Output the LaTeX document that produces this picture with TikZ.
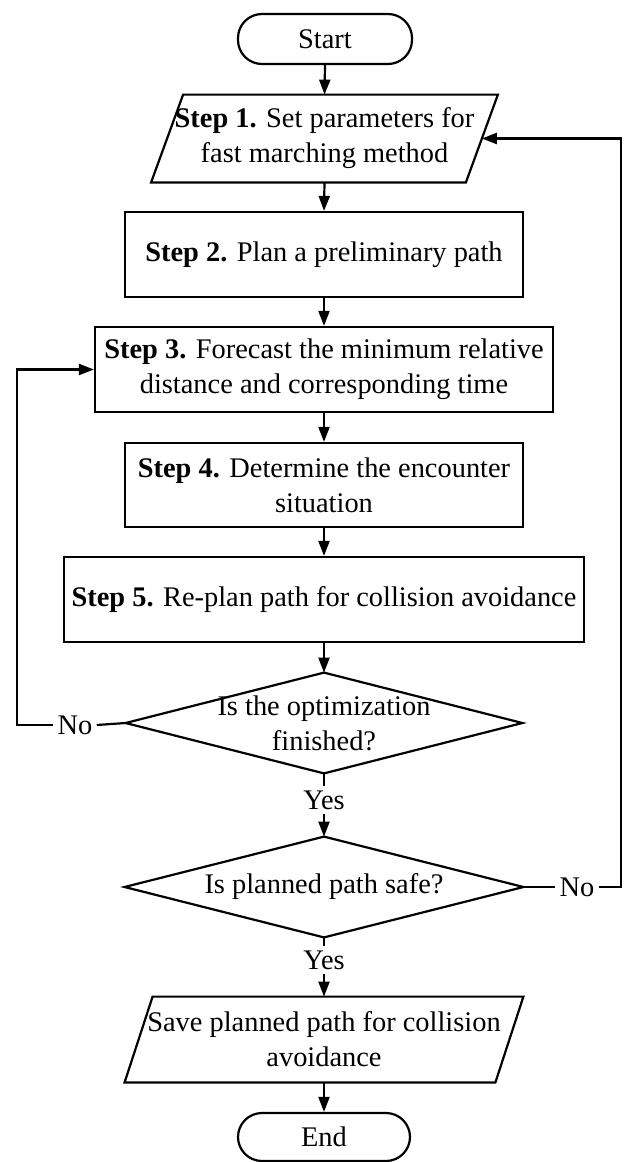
\documentclass[tikz,border=0pt]{standalone}
\usepackage{fontspec}
\setmainfont{Liberation Serif}
\usetikzlibrary{arrows.meta,calc}
\begin{document}
\begin{tikzpicture}[x=0.5pt,y=-0.5pt,
  every node/.style={font=\fontsize{14.2}{17.5}\selectfont},
  box/.style={draw,line width=1.1pt,inner sep=0pt,align=center},
  term/.style={box,rounded corners=12pt},
  frame/.style={inner sep=0pt,align=center},
  conn/.style={line width=1.1pt},
  arr/.style={conn,-{Triangle[length=7.5pt,width=5.5pt]}},
  lbl/.style={inner sep=2pt}]
\useasboundingbox (0,0) rectangle (623,1162);
% nodes
\node[term,minimum width=87pt,minimum height=25pt] (start) at (325,39) {Start};
\node[frame,minimum width=157pt,minimum height=43.5pt] (s1) at (324.5,138.5) {\textbf{Step 1.} Set parameters for\\fast marching method};
\node[box,minimum width=199pt,minimum height=42.5pt] (s2) at (324,254.5) {\textbf{Step 2.} Plan a preliminary path};
\node[box,minimum width=229pt,minimum height=42.5pt] (s3) at (324,369.5) {\textbf{Step 3.} Forecast the minimum relative\\distance and corresponding time};
\node[box,minimum width=199pt,minimum height=42pt] (s4) at (324,485) {\textbf{Step 4.} Determine the encounter\\situation};
\node[box,minimum width=260pt,minimum height=42.5pt] (s5) at (324,599.5) {\textbf{Step 5.} Re-plan path for collision avoidance};
\node[frame,minimum width=198pt,minimum height=50pt] (d1) at (324,723) {Is the optimization\\finished?};
\node[lbl] (yes1) at (324,800) {Yes};
\node[frame,minimum width=199pt,minimum height=50pt] (d2) at (324,887) {Is planned path safe?};
\node[lbl] (yes2) at (324,960) {Yes};
\node[frame,minimum width=185pt,minimum height=42.5pt] (save) at (324,1039.5) {Save planned path for collision\\avoidance};
\node[term,minimum width=86pt,minimum height=24pt] (end) at (324,1137) {End};
\node[lbl] (no1) at (75,725) {No};
\node[lbl] (no2) at (577,887) {No};
% shapes drawn around frame nodes
\draw[conn] ([xshift=8pt]s1.north west) -- ([xshift=8pt]s1.north east) -- ([xshift=-8pt]s1.south east) -- ([xshift=-8pt]s1.south west) -- cycle;
\draw[conn] ([xshift=7pt]save.north west) -- ([xshift=7pt]save.north east) -- ([xshift=-7pt]save.south east) -- ([xshift=-7pt]save.south west) -- cycle;
\draw[conn] (d1.north) -- (d1.east) -- (d1.south) -- (d1.west) -- cycle;
\draw[conn] (d2.north) -- (d2.east) -- (d2.south) -- (d2.west) -- cycle;
% connectors
\draw[arr] (start.south) -- (s1.north);
\draw[arr] (s1.south) -- (s2.north);
\draw[arr] (s2.south) -- (s3.north);
\draw[arr] (s3.south) -- (s4.north);
\draw[arr] (s4.south) -- (s5.north);
\draw[arr] (s5.south) -- (d1.north);
\draw[conn] (d1.south) -- (yes1.north);
\draw[arr] (yes1.south) -- (d2.north);
\draw[conn] (d2.south) -- (yes2.north);
\draw[arr] (yes2.south) -- (save.north);
\draw[arr] (save.south) -- (end.north);
\coordinate (lc) at (17,725);
\coordinate (rc) at (621,887);
\draw[conn] (d1.west) -- (no1.east);
\draw[arr] (no1.west) -- (lc) |- (s3.west);
\draw[conn] (d2.east) -- (no2.west);
\draw[arr] (no2.east) -- (rc) |- (s1.east);
\end{tikzpicture}
\end{document}
